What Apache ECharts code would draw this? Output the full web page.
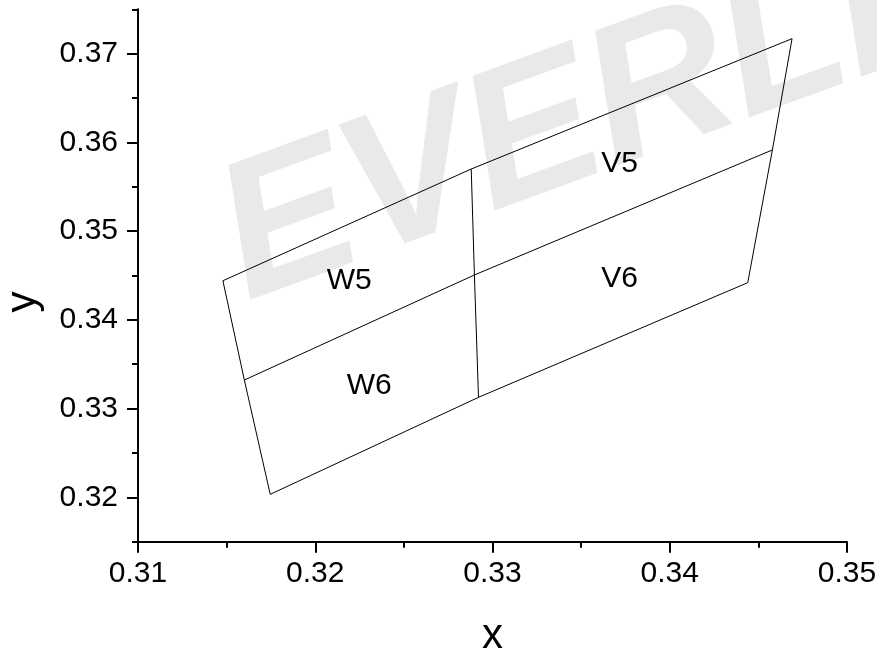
<!DOCTYPE html>
<html>
<head>
<meta charset="utf-8">
<script src="https://cdn.jsdelivr.net/npm/echarts@6/dist/echarts.min.js"></script>
<style>html,body{margin:0;padding:0;background:#fff}#c{width:877px;height:651px}</style>
</head>
<body>
<div id="c"></div>
<script>
// Bin corner coordinates (CIE x, y): three columns, rows top / middle / bottom
const leftX  = [0.31479, 0.31600, 0.31746];
const leftY  = [0.34441, 0.33322, 0.32034];
const midX   = [0.32880, 0.32898, 0.32921];
const midY   = [0.35700, 0.34506, 0.33127];
const rightX = [0.34690, 0.34579, 0.34440];
const rightY = [0.37169, 0.35915, 0.34419];

// Bin names and where their labels sit
const binNames = ['W5', 'W6', 'V5', 'V6'];
const binX = [0.32192, 0.32304, 0.33717, 0.33717];
const binY = [0.34472, 0.33294, 0.35791, 0.34494];

// Axis ticks
const xTicks = [0.31, 0.32, 0.33, 0.34, 0.35];
const yTicks = [0.32, 0.33, 0.34, 0.35, 0.36, 0.37];
const yMinorTicks = [0.315, 0.325, 0.335, 0.345, 0.355, 0.365, 0.375];

const FONT = 'Liberation Sans, Arial, sans-serif';

const lines = [];
for (let i = 0; i < 3; i++) {
  lines.push([[leftX[i], leftY[i]], [midX[i], midY[i]], [rightX[i], rightY[i]]]);
}
lines.push(leftX.map((x, i) => [x, leftY[i]]));
lines.push(midX.map((x, i) => [x, midY[i]]));
lines.push(rightX.map((x, i) => [x, rightY[i]]));

const series = lines.map(d => ({
  type: 'line', data: d, symbol: 'none', silent: true, z: 3,
  lineStyle: { color: '#000', width: 1 }
}));
series.push({
  type: 'scatter', symbolSize: 0, silent: true, z: 4,
  itemStyle: { opacity: 1, color: '#000' },
  data: binNames.map((n, i) => ({ name: n, value: [binX[i], binY[i]] })),
  label: { show: true, position: 'inside', formatter: p => p.name, offset: [0, 3],
           color: '#000', opacity: 1, textBorderWidth: 0,
           fontSize: 30, fontFamily: FONT }
});

const chart = echarts.init(document.getElementById('c'), null, { renderer: 'canvas' });
chart.setOption({
  animation: false,
  backgroundColor: '#fff',
  grid: { left: 138, right: 30, top: 9.3, bottom: 109.3, containLabel: false, outerBoundsMode: 'none' },
  graphic: [
    { type: 'text', x: 262, y: 342, rotation: 0.35, z: -10, silent: true,
      style: { text: 'EVERLIGHT', fill: '#e9e9e9', fontSize: 195, fontWeight: 'bold',
               fontStyle: 'italic', fontFamily: FONT, align: 'left', verticalAlign: 'bottom' } },
    { type: 'text', x: 23.5, y: 302, rotation: Math.PI / 2, silent: true,
      style: { text: 'y', fill: '#000', fontSize: 42, fontFamily: FONT,
               align: 'center', verticalAlign: 'middle' } }
  ],
  xAxis: {
    type: 'value', min: xTicks[0], max: xTicks[xTicks.length - 1], interval: 0.01,
    name: 'x', nameLocation: 'middle', nameGap: 74,
    nameTextStyle: { fontSize: 42, color: '#000', fontFamily: FONT },
    axisLine: { show: true, onZero: false, lineStyle: { color: '#000', width: 2 } },
    axisTick: { show: true, length: 11, lineStyle: { color: '#000', width: 2 } },
    minorTick: { show: true, splitNumber: 2, length: 6, lineStyle: { color: '#000', width: 2 } },
    splitLine: { show: false }, minorSplitLine: { show: false },
    axisLabel: { fontSize: 30, color: '#000', fontFamily: FONT, margin: 17.5,
                 formatter: v => v.toFixed(2) }
  },
  yAxis: [
    {
      type: 'value', min: 0.315, max: 0.375, position: 'left',
      axisLine: { show: true, onZero: false, lineStyle: { color: '#000', width: 2 } },
      axisTick: { show: true, length: 11, customValues: yTicks, lineStyle: { color: '#000', width: 2 } },
      splitLine: { show: false },
      axisLabel: { fontSize: 30, color: '#000', fontFamily: FONT, margin: 20,
                   customValues: yTicks, formatter: v => v.toFixed(2) }
    },
    {
      type: 'value', min: 0.315, max: 0.375, position: 'left', offset: 0,
      axisLine: { show: false },
      axisTick: { show: true, length: 6, customValues: yMinorTicks, lineStyle: { color: '#000', width: 2 } },
      splitLine: { show: false },
      axisLabel: { show: false }
    }
  ],
  series: series
});
</script>
</body>
</html>
